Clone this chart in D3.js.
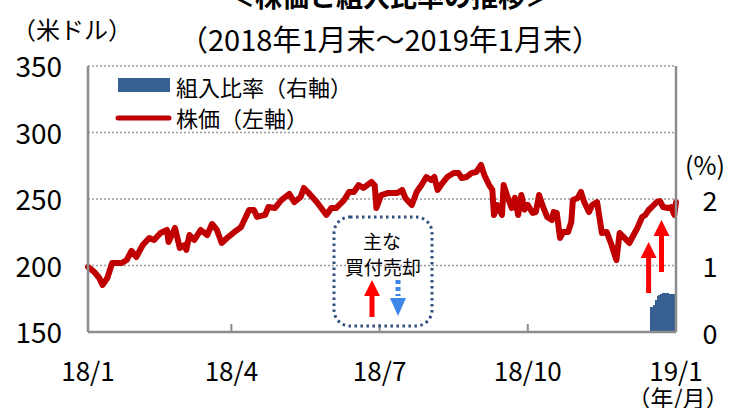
<!DOCTYPE html>
<html><head><meta charset="utf-8">
<script src="https://cdn.jsdelivr.net/npm/d3@7"></script>
<style>
html,body{margin:0;padding:0;background:#fff;}
svg{display:block;font-family:"Noto Sans CJK JP","Noto Sans",sans-serif;}
</style></head>
<body><svg id="c" width="729" height="408"></svg>
<script>
// ---- data ----
const startDate = "2018-01-31";
// day offsets from 2018-01-31
const priceDays = [0,4,7,9,12,15,21,24,27,30,34,38,41,45,49,50,54,57,60,61,63,66,70,74,77,80,83,87,91,95,100,103,105,110,112,116,120,125,128,132,134,137,142,148,151,154,159,162,165,168,171,176,178,179,182,186,192,195,197,201,204,207,210,213,215,217,220,223,227,230,232,235,238,241,244,246,249,251,252,254,257,258,260,263,265,267,269,271,273,276,278,280,282,285,288,289,291,293,295,298,300,301,304,306,308,311,313,316,319,322,325,328,330,333,336,341,344,346,348,350,353,355,357,360,362,364,365];
const prices = [198.9,195.1,190.6,185.3,190.6,201.9,201.9,204.1,210.9,206.4,215.4,220.7,219.2,224.4,226.7,217.7,228.2,213.2,215.4,211.7,222.9,219.2,226.7,222.9,231.2,226.7,216.9,221.4,225.2,228.9,241.7,241.7,236.5,238.0,244.0,243.2,249.2,253.8,247.7,251.5,258.3,254.5,247.7,238.0,243.2,243.2,249.2,255.3,255.3,260.5,258.3,262.8,260.2,243.2,253.0,254.5,254.5,256.8,250.8,245.5,255.3,260.5,266.5,264.3,266.5,256.8,262.0,266.5,269.5,269.5,265.8,266.5,269.5,270.3,275.6,268.0,260.5,256.8,238.0,245.5,238.0,260.5,253.0,243.2,250.8,238.0,253.0,242.0,245.5,239.5,240.2,253.0,245.5,236.5,234.2,240.2,239.5,220.7,225.2,225.2,232.7,249.2,250.8,255.3,247.7,240.2,245.5,247.7,224.4,225.2,215.4,204.1,224.4,220.7,216.9,228.2,236.5,238.0,241.7,244.0,247.7,248.5,244.0,243.2,244.0,238.0,247.7];
const weightDays = [349,350,351,352,353,354,355,356,357,358,359,360,361,362,363,364];
const weights = [0.38,0.38,0.40,0.48,0.54,0.56,0.57,0.59,0.59,0.59,0.58,0.57,0.57,0.57,0.57,0.57];
const leftTicks = [150,200,250,300,350];
const rightTicks = [0,1,2];
const xTickDates = ["2018-01-31","2018-04-30","2018-07-31","2018-10-31","2019-01-31"];
const xTickLabels = ["18/1","18/4","18/7","18/10","19/1"];
const buyArrowDays = [348,356];
const titleText = "＜株価と組入比率の推移＞";
const subTitle = "（2018年1月末～2019年1月末）";
const leftUnit = "（米ドル）";
const rightUnit = "(%)";
const xUnit = "（年/月）";
const legendLabels = ["組入比率（右軸）","株価（左軸）"];
const boxLines = ["主な","買付売却"];

// ---- layout ----
const L = 88, R = 676, T = 66, B = 332;
const svg = d3.select("#c");
const parse = d3.utcParse("%Y-%m-%d");
const base = parse(startDate);
const dayToDate = d => d3.utcDay.offset(base, d);
const x = d3.scaleUtc().domain([base, parse("2019-01-31")]).range([L, R]);
const y = d3.scaleLinear().domain([150, 350]).range([B, T]);
const y2 = d3.scaleLinear().domain([0, 3]).range([B, y(300)]);
const red = "#c00000", blue = "#376092", grid = "#9a9a9a", axisC = "#8c8c8c";

// gridlines
svg.append("g").selectAll("line").data(leftTicks.filter(v => v > 150)).join("line")
  .attr("x1", L).attr("x2", R).attr("y1", d => y(d)).attr("y2", d => y(d))
  .attr("stroke", grid).attr("stroke-width", 1.3).attr("stroke-dasharray", "2,2");

// weight bars
const bw = x(dayToDate(1)) - x(dayToDate(0));
svg.append("g").attr("shape-rendering", "crispEdges").selectAll("rect")
  .data(weightDays.map((d, i) => ({d, v: weights[i]}))).join("rect")
  .attr("x", e => x(dayToDate(e.d)))
  .attr("width", e => Math.min(bw + 1, R - x(dayToDate(e.d))))
  .attr("y", e => y2(e.v)).attr("height", e => B - y2(e.v))
  .attr("fill", blue);

// price line
const pts = priceDays.map((d, i) => [x(dayToDate(d)), y(prices[i])]);
svg.append("path").attr("d", d3.line()(pts)).attr("fill", "none")
  .attr("stroke", red).attr("stroke-width", 6).attr("stroke-linejoin", "round").attr("stroke-linecap", "round");

// axes lines
svg.append("line").attr("x1", L).attr("x2", L).attr("y1", T).attr("y2", B).attr("stroke", axisC).attr("stroke-width", 2.5);
svg.append("line").attr("x1", R).attr("x2", R).attr("y1", T).attr("y2", B).attr("stroke", axisC).attr("stroke-width", 2.5);
svg.append("line").attr("x1", L).attr("x2", R).attr("y1", B).attr("y2", B).attr("stroke", axisC).attr("stroke-width", 2.5);

// x ticks (inward)
svg.append("g").selectAll("line").data(xTickDates.slice(1, -1)).join("line")
  .attr("x1", d => x(parse(d))).attr("x2", d => x(parse(d)))
  .attr("y1", B).attr("y2", B - 8).attr("stroke", axisC).attr("stroke-width", 2);

const txt = (s, xx, yy, size, anchor, weight, baseline) => svg.append("text").text(s)
  .attr("x", xx).attr("y", yy).attr("font-size", size).attr("text-anchor", anchor || "middle")
  .attr("dominant-baseline", baseline || "central").attr("fill", "#000").attr("font-weight", weight || "normal");

// tick labels
leftTicks.forEach(v => txt(v, 62, y(v) - 1, 28, "end"));
rightTicks.forEach(v => txt(v, 710, y2(v), 27, "middle"));
xTickDates.forEach((d, i) => txt(xTickLabels[i], x(parse(d)), 369, 26, "middle"));
txt(xUnit, 678, 397, 23, "middle");
txt(rightUnit, 705, 164, 25, "middle");
txt(leftUnit, 72, 28, 24, "middle");
txt(subTitle, 390, 38, 29, "middle");
txt(titleText, 390, 7, 27, "middle", "bold", "auto");

// legend
svg.append("rect").attr("x", 118).attr("y", 78).attr("width", 52).attr("height", 14).attr("fill", blue);
txt(legendLabels[0], 176, 86, 22, "start");
svg.append("line").attr("x1", 118).attr("x2", 169).attr("y1", 118).attr("y2", 118)
  .attr("stroke", red).attr("stroke-width", 5).attr("stroke-linecap", "round");
txt(legendLabels[1], 176, 117, 22, "start");

// annotation box
svg.append("rect").attr("x", 334).attr("y", 217).attr("width", 98).attr("height", 109).attr("rx", 16)
  .attr("fill", "none").attr("stroke", "#2f4f7f").attr("stroke-width", 3).attr("stroke-dasharray", "2.5,3.5");
txt(boxLines[0], 382, 240, 19, "middle");
txt(boxLines[1], 383, 266, 19, "middle");

function upArrow(cx, tip, bottom, color) {
  const hb = tip + 16;
  svg.append("rect").attr("x", cx - 2.5).attr("y", hb - 1).attr("width", 5).attr("height", bottom - hb + 1).attr("fill", color);
  svg.append("path").attr("d", `M${cx},${tip}L${cx - 8},${hb}L${cx + 8},${hb}Z`).attr("fill", color);
}
upArrow(372, 280, 317, "#ff0000");
// blue dotted down arrow
svg.append("line").attr("x1", 398).attr("x2", 398).attr("y1", 280).attr("y2", 296)
  .attr("stroke", "#3d85e8").attr("stroke-width", 5).attr("stroke-dasharray", "4,3");
svg.append("path").attr("d", "M398,316L390,298L406,298Z").attr("fill", "#3d85e8");

// buy arrows in chart
upArrow(x(dayToDate(buyArrowDays[0])), 242, 293, "#ff0000");
upArrow(x(dayToDate(buyArrowDays[1])), 220, 272, "#ff0000");
</script></body></html>
